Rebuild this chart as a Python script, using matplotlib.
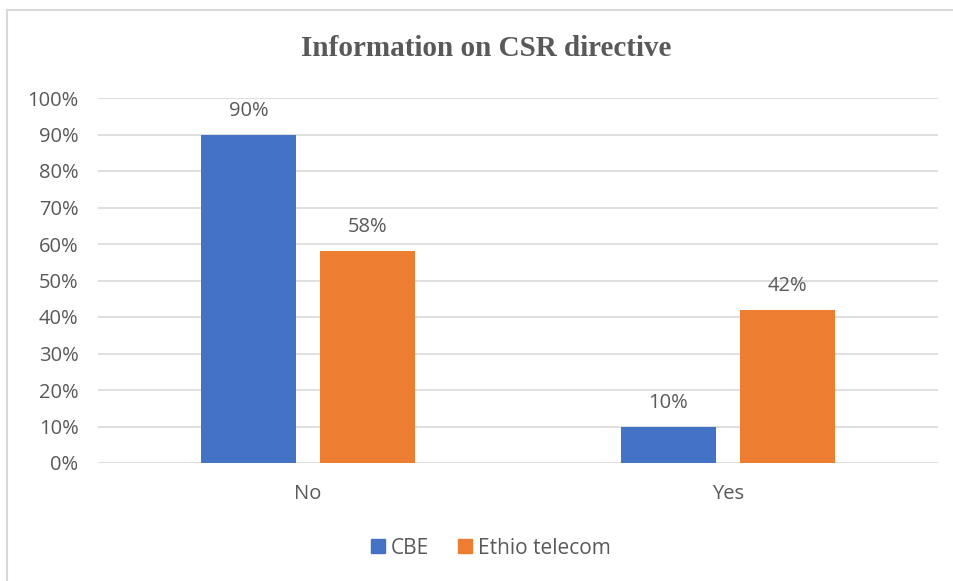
import numpy as np
import matplotlib.pyplot as plt
from matplotlib.patches import Patch, Rectangle

# survey answers, share of respondents
categories = ["No", "Yes"]
series_names = ["CBE", "Ethio telecom"]
cbe = [0.90, 0.10]
ethio = [0.58, 0.42]
yticks = [0.0, 0.1, 0.2, 0.3, 0.4, 0.5, 0.6, 0.7, 0.8, 0.9, 1.0]

blue = "#4472C4"
orange = "#ED7D31"
grid = "#D9D9D9"
txt = "#595959"
font = "Open Sans"
fs = 14.5

fig = plt.figure(figsize=(9.54, 5.81), dpi=100)
ax = fig.add_axes([98/954, 118/581, 840/954, 365/581])

x = np.arange(len(categories))
w = 0.224
off = 0.1417
b1 = ax.bar(x - off, cbe, w, color=blue, zorder=3)
b2 = ax.bar(x + off, ethio, w, color=orange, zorder=3)

for bars, vals in ((b1, cbe), (b2, ethio)):
    for b, v in zip(bars, vals):
        ax.annotate("%d%%" % round(v*100), (b.get_x() + b.get_width()/2, v),
                    xytext=(0, 10), textcoords="offset points", ha="center", va="bottom",
                    fontsize=fs, color=txt, family=font)

ax.set_xlim(-0.5, 1.5)
ax.set_ylim(0, 1.0)
ax.set_yticks(yticks)
ax.set_yticklabels(["%d%%" % round(t*100) for t in yticks], fontsize=fs, color=txt, family=font)
ax.set_xticks(x)
ax.set_xticklabels(categories, fontsize=fs, color=txt, family=font)
ax.tick_params(axis="y", length=0, pad=14)
ax.tick_params(axis="x", length=0, pad=15)
ax.yaxis.grid(True, color=grid, lw=1.2, zorder=0)
ax.set_axisbelow(True)
for s in ax.spines.values():
    s.set_visible(False)

fig.text(486/954, 1 - 48/581, "Information on CSR directive", ha="center", va="center",
         fontsize=21, fontweight="bold", color=txt, family="Liberation Serif")

handles = [Patch(color=blue), Patch(color=orange)]
fig.legend(handles, series_names, loc="center", bbox_to_anchor=(491/954, 1 - 548/581),
           ncol=2, frameon=False, handlelength=0.65, handleheight=0.65, handletextpad=0.3,
           columnspacing=1.4, prop={"family": font, "size": 15}, labelcolor=txt)

# chart frame
fig.patches.append(Rectangle((7/954, -0.1), 1.2, 1 - 10/581 + 0.1, transform=fig.transFigure,
                             fill=False, edgecolor=grid, lw=1.5))

fig.savefig("out.png", dpi=100)
